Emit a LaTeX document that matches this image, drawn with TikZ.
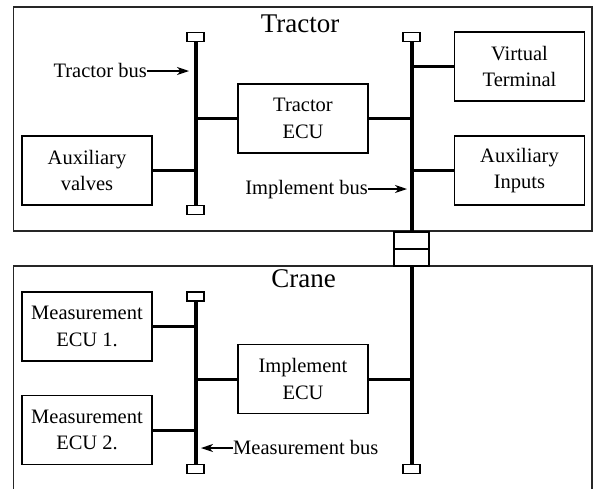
\documentclass[tikz,border=0pt]{standalone}
\usepackage{fontspec}
\setmainfont{Liberation Serif}
\usetikzlibrary{arrows.meta}
\begin{document}
\begin{tikzpicture}[x=1pt,y=-1pt,
  outer/.style={draw=black!85, line width=1.3pt},
  box/.style={draw, line width=1.2pt, minimum width=130pt, minimum height=69pt, align=center, font=\fontsize{20.5}{26.5}\selectfont, inner sep=0pt},
  bus/.style={line width=4pt},
  branch/.style={line width=3pt},
  term/.style={draw, fill=white, line width=1.1pt, minimum width=17pt, minimum height=9pt, inner sep=0pt},
  connbox/.style={draw, line width=1.3pt, minimum width=35pt, minimum height=17pt, inner sep=0pt},
  lbl/.style={font=\fontsize{20.5}{24}\selectfont, inner sep=0pt},
  ttl/.style={font=\fontsize{27}{30}\selectfont, inner sep=0pt},
  arr/.style={-{Stealth[length=12pt,width=8pt,inset=3.5pt]}, line width=1.3pt}]
\useasboundingbox (0,0) rectangle (596,488);
\clip (0,0) rectangle (596,488);
% outer frames
\draw[outer] (13.5,7) rectangle (592,231);
\draw[outer] (13.5,266) rectangle (592,500);
\node[ttl, anchor=base] (tractor) at (300,32) {Tractor};
\node[ttl, anchor=base] (crane) at (303.5,287) {Crane};
% tractor boxes
\node[box] (tecu) at (303,118.5) {Tractor\\ECU};
\node[box] (auxv) at (87,170.5) {Auxiliary\\valves};
\node[box] (vt) at (519.5,66.5) {Virtual\\Terminal};
\node[box] (auxi) at (519.5,170.5) {Auxiliary\\Inputs};
% crane boxes
\node[box] (m1) at (87,326.5) {Measurement\\ECU 1.};
\node[box] (m2) at (87,430) {Measurement\\ECU 2.};
\node[box] (iecu) at (303,379) {Implement\\ECU};
% connector
\node[connbox] (c1) at (411.5,240.5) {};
\node[connbox] (c2) at (411.5,257.5) {};
% terminators
\node[term] (tLt) at (195.5,37) {};
\node[term] (tLb) at (195.5,210) {};
\node[term] (tRt) at (411.5,37) {};
\node[term] (cLt) at (195.5,296.5) {};
\node[term] (cLb) at (195.5,469) {};
\node[term] (cRb) at (411.5,469) {};
% buses
\draw[bus] (tLt.south) -- (tLb.north);
\draw[bus] (tRt.south) -- (c1.north);
\draw[bus] (cLt.south) -- (cLb.north);
\draw[bus] (c2.south) -- (cRb.north);
% branches
\draw[branch] (auxv.east) -- (auxv.east -| tLt);
\draw[branch] (tecu.west) -- (tecu.west -| tLt);
\draw[branch] (tecu.east) -- (tecu.east -| tRt);
\draw[branch] (vt.west) -- (vt.west -| tRt);
\draw[branch] (auxi.west) -- (auxi.west -| tRt);
\draw[branch] (m1.east) -- (m1.east -| cLt);
\draw[branch] (m2.east) -- (m2.east -| cLt);
\draw[branch] (iecu.west) -- (iecu.west -| cLt);
\draw[branch] (iecu.east) -- (iecu.east -| cRb);
% labels
\node[lbl, anchor=base east] (tbl) at (147,77) {Tractor bus};
\draw[arr] (147,71) -- (189,71);
\node[lbl, anchor=base east] (ibl) at (368,194) {Implement bus};
\draw[arr] (368,189) -- (407,189);
\node[lbl, anchor=base west] (mbl) at (233,454) {Measurement bus};
\draw[arr] (233,448) -- (201,448);
\end{tikzpicture}
\end{document}
